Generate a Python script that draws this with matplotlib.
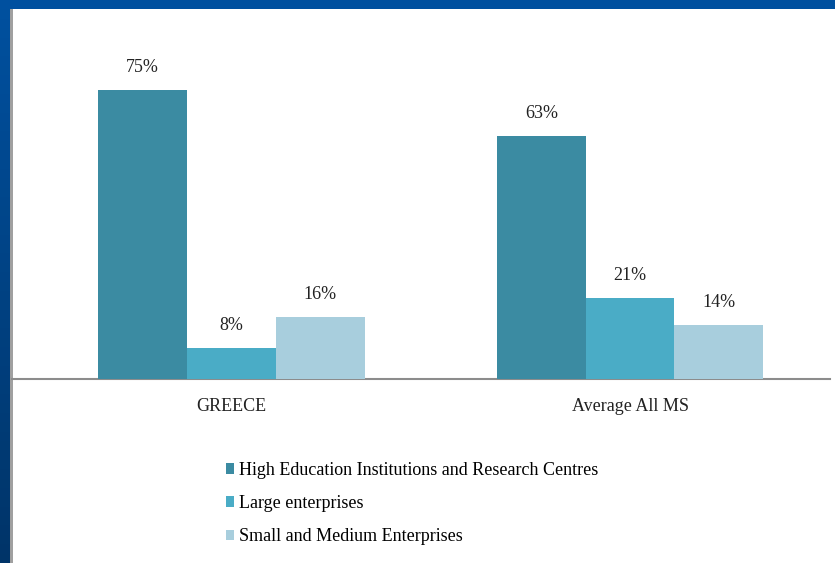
import matplotlib.pyplot as plt
from matplotlib.patches import Rectangle, Patch
import matplotlib.colors as mcolors
import numpy as np

categories = ["GREECE", "Average All MS"]
series = ["High Education Institutions and Research Centres",
          "Large enterprises",
          "Small and Medium Enterprises"]
values = {
    "High Education Institutions and Research Centres": [75, 63],
    "Large enterprises": [8, 21],
    "Small and Medium Enterprises": [16, 14],
}
colors = ["#3B8BA2", "#4AACC6", "#A8CEDD"]

plt.rcParams['font.family'] = ['Liberation Serif', 'DejaVu Serif']

W, H = 835, 563
fig = plt.figure(figsize=(W / 100, H / 100), dpi=100)

# background frame
fig.patches.append(Rectangle((0, 0), 1, 1, transform=fig.transFigure,
                             facecolor="#00509F", edgecolor="none", zorder=-5))
top_c = np.array(mcolors.to_rgb("#00509F"))
bot_c = np.array(mcolors.to_rgb("#003468"))
n = 60
for i in range(n):
    t = i / (n - 1)
    c = bot_c * (1 - t) + top_c * t
    fig.patches.append(Rectangle((0, i / n), 11 / W, 1 / n + 0.002, transform=fig.transFigure,
                                 facecolor=c, edgecolor="none", zorder=-4))
fig.patches.append(Rectangle((10 / W, 0), 3 / W, 1 - 9 / H, transform=fig.transFigure,
                             facecolor="#A0A0A0", edgecolor="none", zorder=-3))
fig.patches.append(Rectangle((13 / W, 0), 1, 1 - 9 / H, transform=fig.transFigure,
                             facecolor="white", edgecolor="none", zorder=-2))

px_per_unit = 398.5
x0_px = 231.5
left_px, right_px = 12, 830
base_px = 379
top_px = 20
ppp = 3.85  # pixels per percent

ax = fig.add_axes([left_px / W, 1 - base_px / H, (right_px - left_px) / W, (base_px - top_px) / H])
ax.set_facecolor("none")
ax.set_xlim((left_px - x0_px) / px_per_unit, (right_px - x0_px) / px_per_unit)
ax.set_ylim(0, (base_px - top_px) / ppp)

x = np.arange(len(categories))
bw = 88.7 / px_per_unit
offsets = [-bw, 0, bw]
for s, off, c in zip(series, offsets, colors):
    bars = ax.bar(x + off, values[s], width=bw, color=c, label=s, zorder=3)
    for b, v in zip(bars, values[s]):
        ax.text(b.get_x() + b.get_width() / 2, v + 14 / ppp, f"{v}%",
                ha="center", va="bottom", fontsize=13, color="#222222")

for sp in ["top", "right", "left"]:
    ax.spines[sp].set_visible(False)
ax.spines["bottom"].set_color("#8C8C8C")
ax.spines["bottom"].set_linewidth(1.5)
ax.set_yticks([])
ax.set_xticks(x)
ax.set_xticklabels(categories, fontsize=13, color="#222222")
ax.tick_params(axis="x", length=0, pad=14)

handles = [Patch(facecolor=c, edgecolor="none") for c in colors]
fig.legend(handles, series, loc="upper left",
           bbox_to_anchor=(219 / W, 1 - 455 / H), frameon=False,
           fontsize=13, handlelength=0.45, handleheight=0.55,
           handletextpad=0.25, labelspacing=0.89, borderaxespad=0)

fig.savefig("out.png", dpi=100)
